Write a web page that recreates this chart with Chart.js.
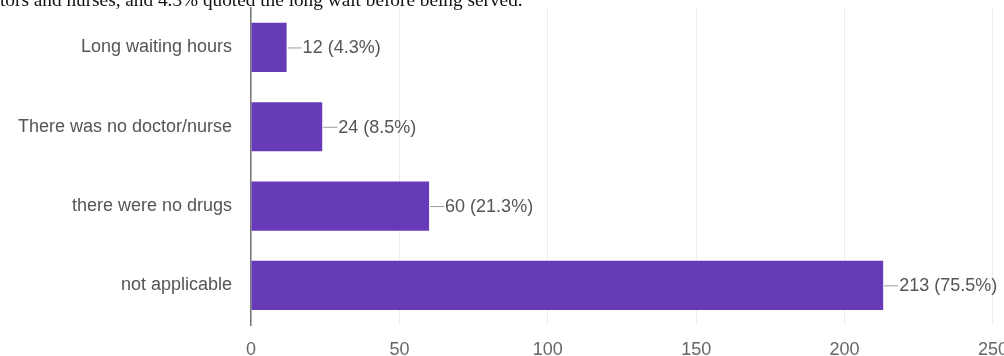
<!DOCTYPE html>
<html>
<head>
<meta charset="utf-8">
<script src="https://cdn.jsdelivr.net/npm/chart.js@4"></script>
<style>
  html, body { margin: 0; padding: 0; background: #fff; overflow: hidden; width: 1004px; height: 356px; }
  #topText {
    position: absolute; left: 0; top: -10px;
    font-family: "Liberation Serif", "Times New Roman", serif;
    font-size: 19.3px; line-height: 20px; color: #111; white-space: nowrap;
  }
  #wrap { position: absolute; left: 0; top: -22px; width: 1022px; height: 378px; }
</style>
</head>
<body>
<div id="wrap"><canvas id="bars"></canvas></div>
<div id="topText">tors and nurses, and 4.3% quoted the long wait before being served.</div>
<script>
    // === Data ===
    const categories = ["Long waiting hours", "There was no doctor/nurse", "there were no drugs", "not applicable"];
    const counts = [12, 24, 60, 213];
    const percents = ["4.3", "8.5", "21.3", "75.5"];
    const xTicks = [0, 50, 100, 150, 200, 250];

    const purple = "#673ab7";
    const labelFont = "Liberation Sans, Arial, sans-serif";

    // value labels with little leader line
    const valueLabels = {
      id: "valueLabels",
      afterDatasetsDraw(chart) {
        const ctx = chart.ctx;
        const meta = chart.getDatasetMeta(0);
        ctx.save();
        ctx.font = "18px " + labelFont;
        ctx.textBaseline = "middle";
        meta.data.forEach((bar, i) => {
          ctx.strokeStyle = "#999";
          ctx.lineWidth = 1;
          ctx.beginPath();
          ctx.moveTo(bar.x + 1, bar.y + 0.5);
          ctx.lineTo(bar.x + 15, bar.y + 0.5);
          ctx.stroke();
          ctx.fillStyle = "#555";
          ctx.fillText(counts[i] + " (" + percents[i] + "%)", bar.x + 16, bar.y + 1);
        });
        ctx.restore();
      }
    };

    const chart = new Chart(document.getElementById("bars"), {
      type: "bar",
      data: {
        labels: categories,
        datasets: [{
          data: counts,
          backgroundColor: purple,
          barPercentage: 0.62,
          categoryPercentage: 1
        }]
      },
      options: {
        indexAxis: "y",
        responsive: true,
        maintainAspectRatio: false,
        animation: false,
        layout: { padding: { top: 8, right: 19, left: 0, bottom: 0 } },
        plugins: { legend: { display: false }, tooltip: { enabled: false } },
        scales: {
          x: {
            min: xTicks[0],
            max: xTicks[xTicks.length - 1],
            afterBuildTicks: scale => { scale.ticks = xTicks.map(v => ({ value: v })); },
            afterFit: scale => { scale.height = 31; },
            grid: { color: "#ececec", drawTicks: false },
            border: { display: false },
            ticks: { padding: 14, color: "#666", font: { size: 18, family: labelFont } }
          },
          y: {
            afterFit: scale => { scale.width = 251; },
            grid: { display: false, drawTicks: false },
            border: { color: "#777", width: 1.5 },
            ticks: { padding: 19, color: "#555", font: { size: 18, family: labelFont } }
          }
        }
      },
      plugins: [valueLabels]
    });
</script>
</body>
</html>
